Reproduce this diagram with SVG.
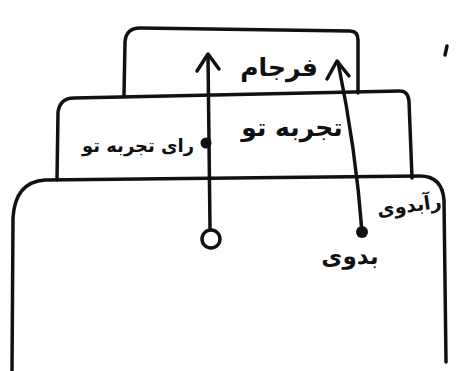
<svg xmlns="http://www.w3.org/2000/svg" width="461" height="371" viewBox="0 0 461 371">
<style>
.ln{fill:none;stroke:#111;stroke-width:3.5;stroke-linecap:round;stroke-linejoin:round}
.tx{font-family:"DejaVu Sans","Noto Sans",sans-serif;fill:#111;text-anchor:middle;font-weight:bold}
</style>
<rect width="461" height="371" fill="#fff"/>
<g id="layer-top">
<path class="ln" d="M124,95 L125,42 Q126,28 140,28 L350,31 Q358,31 358,40 L358,93"/>
<text class="tx" x="279" y="76" font-size="25">فرجام</text>
</g>
<g id="layer-middle">
<path class="ln" d="M57,180 L58,112 Q60,98 74,98 L400,91 Q408,91 409,101 L412,178"/>
<text class="tx" x="292" y="136" font-size="25">تجربه تو</text>
<text class="tx" x="138" y="152" font-size="18">رای تجربه تو</text>
</g>
<g id="layer-bottom">
<path class="ln" d="M12,371 L13,218 Q15,182 45,180 L420,176 Q442,176 444,200 L446,362"/>
<text class="tx" x="410" y="212" font-size="19" transform="rotate(-8 410 212)">رآبدوی</text>
<text class="tx" x="350" y="264" font-size="23">بدوی</text>
</g>
<g id="connectors">
<path class="ln" d="M210,228 L208,55"/>
<polyline class="ln" points="197,71 208,54 219,69"/>
<path class="ln" d="M362,232 Q356,150 338,62"/>
<polyline class="ln" points="327,79 337,61 349,76"/>
<circle cx="206" cy="143" r="5.5" fill="#111"/>
<circle cx="362" cy="232" r="6" fill="#111"/>
<circle cx="211" cy="239" r="9" fill="#fff" stroke="#111" stroke-width="3.5"/>
</g>
<path class="ln" d="M447,46 L445,55" stroke-width="3"/>
</svg>
